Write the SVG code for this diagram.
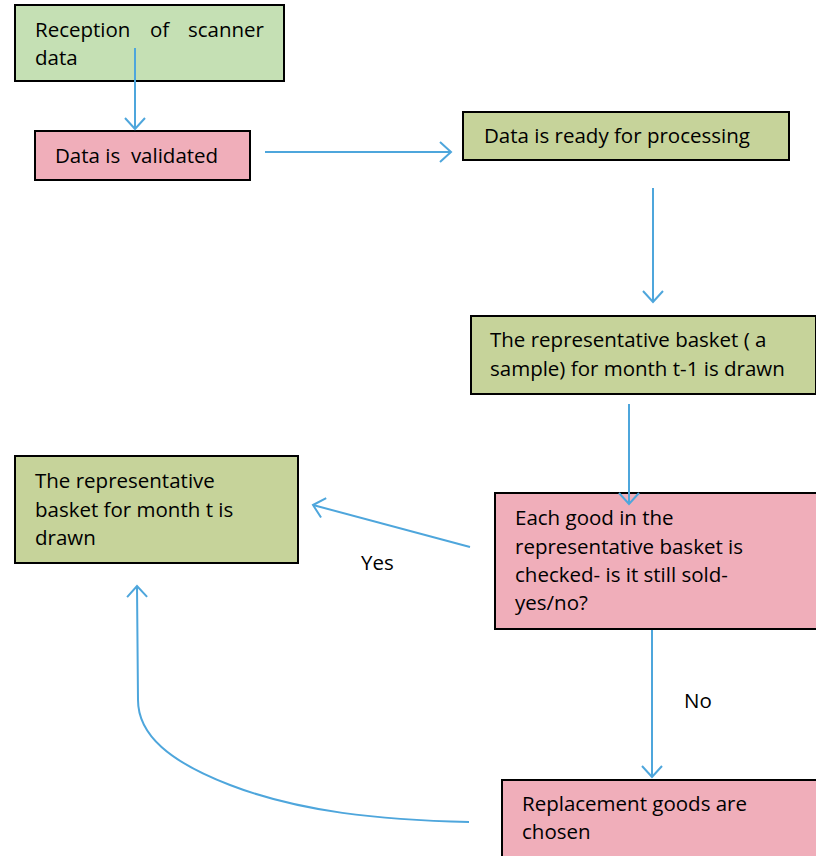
<svg xmlns="http://www.w3.org/2000/svg" width="816" height="856" viewBox="0 0 816 856">
<style>
.box{stroke:#000;stroke-width:2}
.g1{fill:#C5E0B4}
.g2{fill:#C6D39A}
.pk{fill:#F0AEBA}
text{font-family:"Open Sans",Lato,"Liberation Sans",sans-serif;font-size:20.5px;fill:#000;white-space:pre}
.c{fill:none;stroke:#4EA6DC;stroke-width:2;marker-end:url(#ah)}
</style>
<defs>
<marker id="ah" markerUnits="userSpaceOnUse" markerWidth="24" markerHeight="24" refX="12" refY="12" orient="auto" viewBox="0 0 24 24">
<path d="M1,2 L12,12 L1,22" fill="none" stroke="#4EA6DC" stroke-width="2"/>
</marker>
</defs>
<rect width="816" height="856" fill="#fff"/>
<g id="n1"><rect class="box g1" x="15" y="5" width="269" height="76"/>
<text x="35" y="37">Reception</text><text x="150" y="37">of</text><text x="264" y="37" text-anchor="end">scanner</text>
<text x="35" y="65">data</text></g>
<g id="n2"><rect class="box pk" x="35" y="131" width="215" height="49"/><text x="55" y="163" xml:space="preserve">Data is  validated</text></g>
<g id="n3"><rect class="box g2" x="463" y="112" width="326" height="48"/><text x="484" y="143">Data is ready for processing</text></g>
<g id="n4"><rect class="box g2" x="471" y="316" width="345" height="78"/><text x="490" y="347">The representative basket ( a</text><text x="490" y="376">sample) for month t-1 is drawn</text></g>
<g id="n5"><rect class="box g2" x="15" y="456" width="283" height="107"/><text x="35" y="488">The representative</text><text x="35" y="517">basket for month t is</text><text x="35" y="545">drawn</text></g>
<g id="n6"><rect class="box pk" x="495" y="493" width="322" height="136"/><text x="515" y="525">Each good in the</text><text x="515" y="554">representative basket is</text><text x="515" y="582">checked- is it still sold-</text><text x="515" y="610">yes/no?</text></g>
<g id="n7"><rect class="box pk" x="502" y="780" width="316" height="78"/><text x="522" y="811">Replacement goods are</text><text x="522" y="839">chosen</text></g>
<g id="connectors">
<path class="c" d="M135,48 V129"/>
<path class="c" d="M265,152 H451"/>
<path class="c" d="M653,188 V302"/>
<path class="c" d="M629,404 V504"/>
<path class="c" d="M470,547 L313,505"/>
<path class="c" d="M652,630 V777"/>
<path class="c" d="M469,822 C380,820 300,812 230,785 C170,762 138,735 138,700 L137,586"/>
</g>
<text x="361" y="570">Yes</text>
<text x="684" y="708">No</text>
</svg>
